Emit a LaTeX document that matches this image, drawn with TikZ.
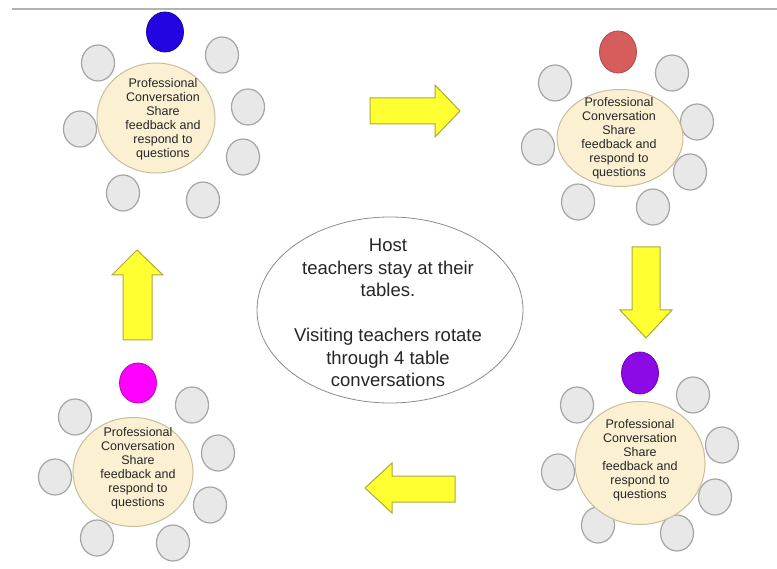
\documentclass[tikz,border=0pt]{standalone}
\usepackage{fontspec}
\setmainfont{Liberation Sans}
\usetikzlibrary{shapes.geometric}
\definecolor{tablefill}{RGB}{251,240,210}
\definecolor{tableline}{RGB}{200,190,155}
\definecolor{chairfill}{RGB}{232,232,232}
\definecolor{chairline}{RGB}{165,165,165}
\definecolor{arrowfill}{RGB}{255,255,50}
\definecolor{arrowline}{RGB}{170,170,60}
\definecolor{cblue}{RGB}{34,5,225}
\definecolor{cred}{RGB}{215,92,92}
\definecolor{cmagenta}{RGB}{255,0,255}
\definecolor{cpurple}{RGB}{140,10,230}
\tikzset{
  tablebox/.style={ellipse, draw=tableline, fill=tablefill, line width=1pt, inner sep=0pt},
  tabletext/.style={align=center, font=\fontsize{12.5}{14}\selectfont, text=black!85, inner sep=0pt},
  chair/.style={ellipse, draw=chairline, fill=chairfill, line width=1.2pt, minimum width=33pt, minimum height=36pt, inner sep=0pt},
  host/.style={ellipse, line width=0.8pt, minimum width=37pt, minimum height=40pt, inner sep=0pt},
  blockarrow/.style={draw=arrowline, fill=arrowfill, line width=1pt, line join=miter},
  centerbox/.style={ellipse, draw=black!45, fill=white, line width=0.8pt, inner sep=0pt, minimum width=266pt, minimum height=186pt},
  centertext/.style={align=center, font=\fontsize{18.5}{22.5}\selectfont, text=black!85, inner sep=0pt}
}
\begin{document}
\begin{tikzpicture}[x=1pt,y=-1pt]
\useasboundingbox (0,0) rectangle (777,569);
\fill[white] (0,0) rectangle (777,569);
\draw[black!30, line width=2pt] (12,9) -- (777,9);

% ---------- Table 1 (top-left) ----------
\node[host, fill=cblue, draw=cblue!70!black] (h1) at (165,32) {};
\node[chair] (c1a) at (98,63) {};
\node[chair] (c1b) at (222,55) {};
\node[chair] (c1c) at (248,107) {};
\node[chair] (c1d) at (243,157) {};
\node[chair] (c1e) at (203,200) {};
\node[chair] (c1f) at (123,193) {};
\node[chair] (c1g) at (80,129) {};
\node[tablebox, minimum width=118pt, minimum height=110pt] (t1) at (156,118) {};
\node[tabletext] (t1x) at (163,119) {Professional\\Conversation\\Share\\feedback and\\respond to\\questions};

% ---------- Table 2 (top-right) ----------
\node[host, fill=cred, draw=cred!80!black, minimum height=42pt] (h2) at (618,52) {};
\node[chair] (c2a) at (555,83) {};
\node[chair] (c2b) at (672,73) {};
\node[chair] (c2c) at (697,122) {};
\node[chair] (c2d) at (690,172) {};
\node[chair] (c2e) at (653,207) {};
\node[chair] (c2f) at (578,202) {};
\node[chair] (c2g) at (538,147) {};
\node[tablebox, minimum width=126pt, minimum height=97pt] (t2) at (620,138) {};
\node[tabletext] (t2x) at (619,138) {Professional\\Conversation\\Share\\feedback and\\respond to\\questions};

% ---------- Table 3 (bottom-left) ----------
\node[host, fill=cmagenta, draw=cmagenta!75!black] (h3) at (138,383) {};
\node[chair] (c3a) at (75,417) {};
\node[chair] (c3b) at (192,405) {};
\node[chair] (c3c) at (218,453) {};
\node[chair] (c3d) at (210,505) {};
\node[chair] (c3e) at (173,543) {};
\node[chair] (c3f) at (97,538) {};
\node[chair] (c3g) at (55,477) {};
\node[tablebox, minimum width=120pt, minimum height=109pt] (t3) at (133,472) {};
\node[tabletext] (t3x) at (138,468) {Professional\\Conversation\\Share\\feedback and\\respond to\\questions};

% ---------- Table 4 (bottom-right) ----------
\node[host, fill=cpurple, draw=cpurple!75!black, minimum height=42pt] (h4) at (640,373) {};
\node[chair] (c4a) at (577,405) {};
\node[chair] (c4b) at (693,395) {};
\node[chair] (c4c) at (722,445) {};
\node[chair] (c4d) at (715,497) {};
\node[chair] (c4e) at (677,533) {};
\node[chair] (c4f) at (598,525) {};
\node[chair] (c4g) at (558,472) {};
\node[tablebox, minimum width=130pt, minimum height=123pt] (t4) at (640,463) {};
\node[tabletext] (t4x) at (640,460) {Professional\\Conversation\\Share\\feedback and\\respond to\\questions};

% ---------- Centre ellipse ----------
\node[centerbox] (mid) at (390,310) {};
\node[centertext] (midx) at (388,313) {Host\\teachers stay at their\\tables.\\[22.5pt]Visiting teachers rotate\\through 4 table\\conversations};

% ---------- Block arrows ----------
\draw[blockarrow] (370,98) -- (435,98) -- (435,85) -- (460,111) -- (435,137) -- (435,124) -- (370,124) -- cycle;
\draw[blockarrow] (632,247) -- (660,247) -- (660,310) -- (672,310) -- (646,338) -- (620,310) -- (632,310) -- cycle;
\draw[blockarrow] (455,476) -- (392,476) -- (392,463) -- (365,488) -- (392,513) -- (392,502) -- (455,502) -- cycle;
\draw[blockarrow] (123,340) -- (123,275) -- (112,275) -- (137,250) -- (163,275) -- (152,275) -- (152,340) -- cycle;
\end{tikzpicture}
\end{document}
